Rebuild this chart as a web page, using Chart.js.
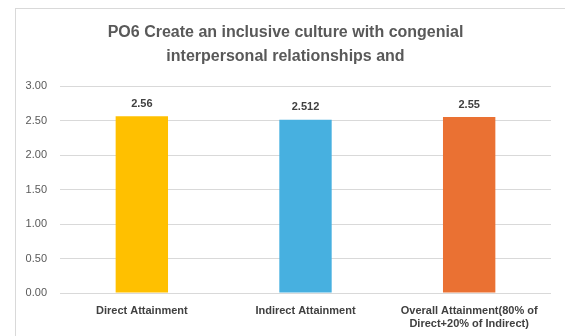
<!DOCTYPE html>
<html>
<head>
<meta charset="utf-8">
<script src="https://cdn.jsdelivr.net/npm/chart.js@4/dist/chart.umd.min.js"></script>
<style>
html,body{margin:0;padding:0;background:#fff;}
#wrap{position:relative;width:565px;height:336px;overflow:hidden;}
#frame{position:absolute;left:15px;top:8px;width:600px;height:400px;border:1px solid #d9d9d9;box-sizing:border-box;}
canvas{position:absolute;left:0;top:0;}
</style>
</head>
<body>
<div id="wrap">
<div id="frame"></div>
<canvas id="c" width="565" height="336"></canvas>
</div>
<script>
const titleLines = ["PO6 Create an inclusive culture with congenial", "interpersonal relationships and"];
const categories = ["Direct Attainment", "Indirect Attainment", ["Overall Attainment(80% of", "Direct+20% of Indirect)"]];
const values = [2.56, 2.512, 2.55];
const valueLabels = ["2.56", "2.512", "2.55"];
const colors = ["#FFC000", "#47B0E0", "#EA7133"];
const yTicks = [0, 0.5, 1, 1.5, 2, 2.5, 3];

const FONT = "'Liberation Sans', Arial, sans-serif";

const dataLabelPlugin = {
  id: 'dataLabels',
  afterDatasetsDraw(chart) {
    const ctx = chart.ctx;
    const meta = chart.getDatasetMeta(0);
    ctx.save();
    ctx.font = "bold 11px " + FONT;
    ctx.fillStyle = "#404040";
    ctx.textAlign = "center";
    ctx.textBaseline = "bottom";
    meta.data.forEach((bar, i) => {
      ctx.fillText(valueLabels[i], bar.x, bar.y - 7);
    });
    ctx.restore();
  }
};

new Chart(document.getElementById('c'), {
  type: 'bar',
  data: {
    labels: categories,
    datasets: [{
      data: values,
      backgroundColor: colors,
      borderWidth: 0,
      categoryPercentage: 1,
      barPercentage: 0.32
    }]
  },
  options: {
    responsive: false,
    animation: false,
    devicePixelRatio: 1,
    layout: { padding: { left: 20, right: 14, top: 14, bottom: 6 } },
    plugins: {
      legend: { display: false },
      tooltip: { enabled: false },
      title: {
        display: true,
        text: titleLines,
        color: "#595959",
        font: { family: FONT, size: 16, weight: 'bold', lineHeight: 1.5 },
        padding: { top: 7, bottom: 17 }
      }
    },
    scales: {
      y: {
        min: 0, max: 3,
        afterBuildTicks(axis) { axis.ticks = yTicks.map(v => ({ value: v })); },
        afterFit(axis) { axis.width = 40; },
        border: { display: false },
        grid: { color: "#d9d9d9", lineWidth: 1, drawTicks: false },
        ticks: {
          color: "#595959",
          padding: 13,
          font: { family: FONT, size: 11 },
          callback: v => v.toFixed(2)
        }
      },
      x: {
        afterFit(axis) { axis.height = 37; },
        border: { display: false },
        grid: { display: false, drawTicks: false },
        ticks: {
          color: "#404040",
          padding: 11,
          maxRotation: 0,
          autoSkip: false,
          font: { family: FONT, size: 11, weight: 'bold', lineHeight: 1.2 }
        }
      }
    }
  },
  plugins: [dataLabelPlugin]
});
</script>
</body>
</html>
